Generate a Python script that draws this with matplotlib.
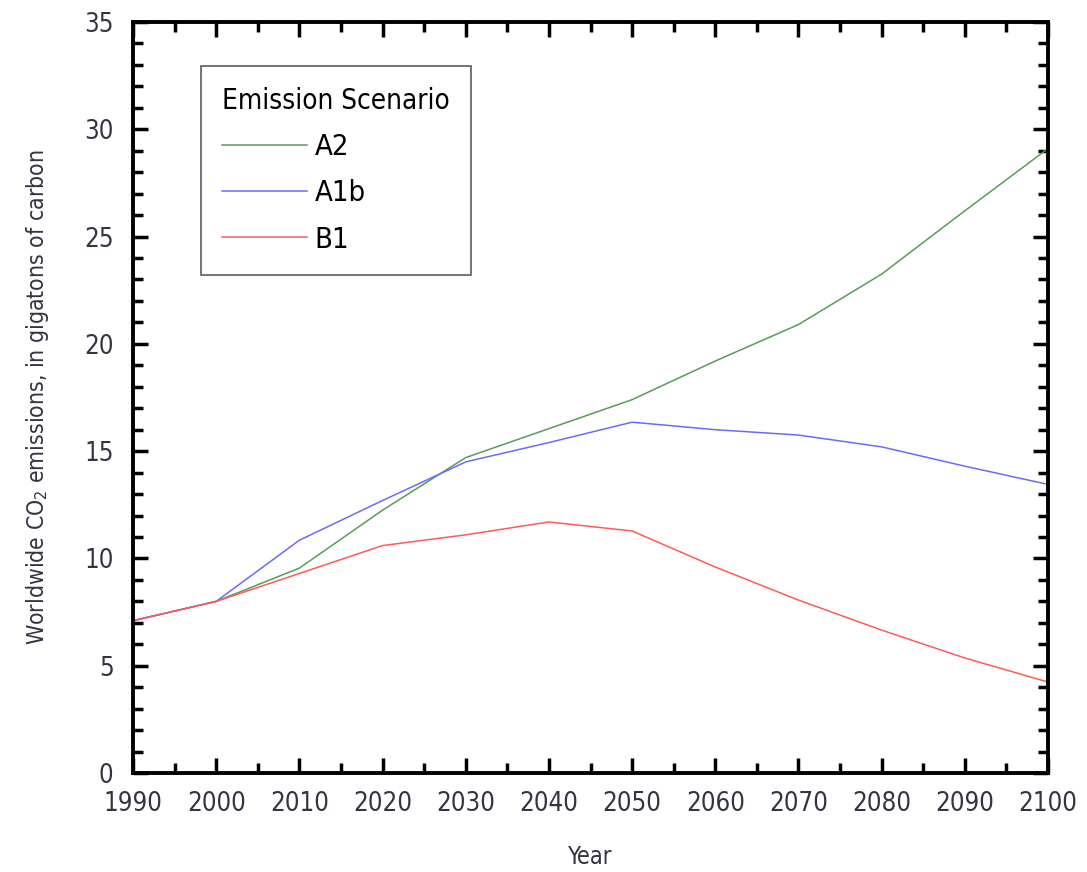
import matplotlib.pyplot as plt
from matplotlib.ticker import MultipleLocator
from matplotlib import font_manager

years = [1990, 2000, 2010, 2020, 2030, 2040, 2050, 2060, 2070, 2080, 2090, 2100]
a2 = [7.1, 8.0, 9.55, 12.25, 14.7, 16.05, 17.4, 19.2, 20.9, 23.25, 26.2, 29.1]
a1b = [7.1, 8.0, 10.85, 12.7, 14.5, 15.4, 16.35, 16.0, 15.75, 15.2, 14.3, 13.45]
b1 = [7.1, 8.0, 9.3, 10.6, 11.1, 11.7, 11.28, 9.6, 8.06, 6.66, 5.36, 4.24]

# pick a condensed face if one is installed
fonts = font_manager.fontManager.ttflist
narrow = [f for f in fonts if f.stretch in ('condensed', 'semi-condensed', 'extra-condensed')
          or 'Narrow' in f.name or 'Condensed' in f.name]
if narrow:
    plt.rcParams['font.family'] = [narrow[0].name, 'DejaVu Sans']
    plt.rcParams['font.stretch'] = narrow[0].stretch
else:
    plt.rcParams['font.family'] = ['Roboto', 'DejaVu Sans']

fig = plt.figure(figsize=(10.87, 8.72), dpi=100)
ax = fig.add_axes([0.1224, 0.1135, 0.8417, 0.8613])

ax.plot(years, a2, color='#5a9a5a', lw=1.1, label='A2')
ax.plot(years, a1b, color='#6a6aff', lw=1.1, label='A1b')
ax.plot(years, b1, color='#ff5a5a', lw=1.1, label='B1')

ax.set_xlim(1990, 2100)
ax.set_ylim(0, 35)
ax.xaxis.set_major_locator(MultipleLocator(10))
ax.xaxis.set_minor_locator(MultipleLocator(5))
ax.yaxis.set_major_locator(MultipleLocator(5))
ax.yaxis.set_minor_locator(MultipleLocator(1))
ax.tick_params(which='both', direction='in', top=True, right=True, width=2.5,
               labelsize=18.5, colors='black', labelcolor='#333344')
ax.tick_params(which='major', length=11)
ax.tick_params(which='minor', length=7)
ax.tick_params(axis='x', which='major', pad=13)
ax.tick_params(axis='y', which='major', pad=14)
for s in ax.spines.values():
    s.set_linewidth(2.8)

ax.set_xlabel('Year', fontsize=17, labelpad=20, color='#333344')
ax.set_ylabel('Worldwide CO$_2$ emissions, in gigatons of carbon', fontsize=16.5,
              labelpad=24, color='#333344')

leg = ax.legend(title='Emission Scenario', loc='upper left',
                bbox_to_anchor=(0.0743, 0.941), borderaxespad=0,
                fontsize=21, title_fontsize=20,
                frameon=True, fancybox=False, edgecolor='#333333',
                handlelength=2.9, handletextpad=0.28, labelspacing=0.62,
                borderpad=0.72)
leg._legend_box.align = 'left'
leg.get_frame().set_linewidth(1.2)

fig.savefig('out.png', dpi=100)
